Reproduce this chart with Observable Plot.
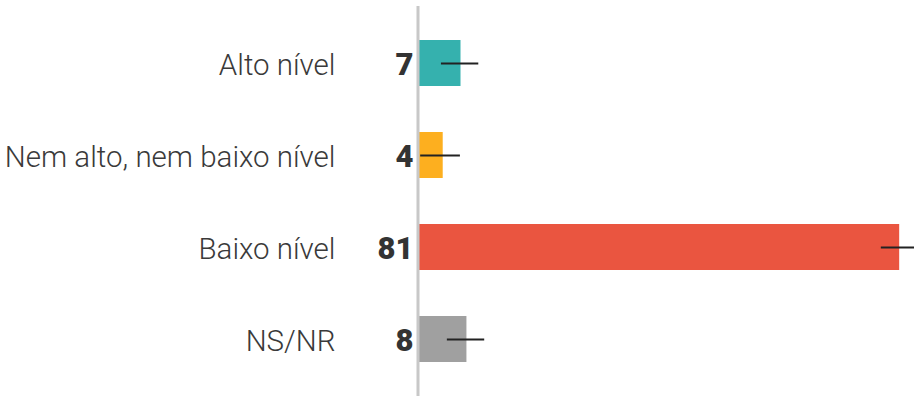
<!DOCTYPE html>
<html>
<head>
<meta charset="utf-8">
<script src="https://cdn.jsdelivr.net/npm/d3@7"></script>
<script src="https://cdn.jsdelivr.net/npm/@observablehq/plot@0.6"></script>
<style>
  html, body { margin: 0; padding: 0; background: #fff; }
  #chart svg { display: block; }
</style>
</head>
<body>
<div id="chart"></div>
<script>
const categories = ["Alto nível", "Nem alto, nem baixo nível", "Baixo nível", "NS/NR"];
const values = [7, 4, 81, 8];
const lows = [3.7, 0.2, 77.9, 4.7];
const highs = [10.0, 6.9, 84.2, 11.0];
const colors = ["#35b1ae", "#fdaf1f", "#ea5540", "#a0a0a0"];

const data = categories.map((c, i) => ({cat: c, value: values[i], low: lows[i], high: highs[i], color: colors[i]}));

const chart = Plot.plot({
  width: 914,
  height: 396,
  marginLeft: 419,
  marginRight: 0,
  marginTop: 6,
  marginBottom: 0,
  style: {fontFamily: "Roboto, sans-serif", background: "#fff"},
  x: {domain: [0, 83.5], axis: null},
  y: {domain: categories, padding: 0.5, paddingOuter: 0.347, label: null},
  marks: [
    Plot.barX(data, {y: "cat", x: "value", fill: "color"}),
    Plot.ruleY(data, {y: "cat", x1: "low", x2: "high", stroke: "#222", strokeWidth: 2, clip: true}),
    Plot.ruleX([0], {stroke: "#c8c8c8", strokeWidth: 3, dx: -1.5}),
    Plot.text(data, {y: "cat", x: 0, text: d => String(d.value), textAnchor: "end", dx: -6, dy: 2, fontSize: 31, fontWeight: 900, fill: "#333"}),
    Plot.axisY({tickSize: 0, tickPadding: 84, dy: 2.5, fontSize: 29.5, fontWeight: 300, fill: "#3a3a3a", label: null})
  ]
});
document.getElementById("chart").appendChild(chart);
</script>
</body>
</html>
